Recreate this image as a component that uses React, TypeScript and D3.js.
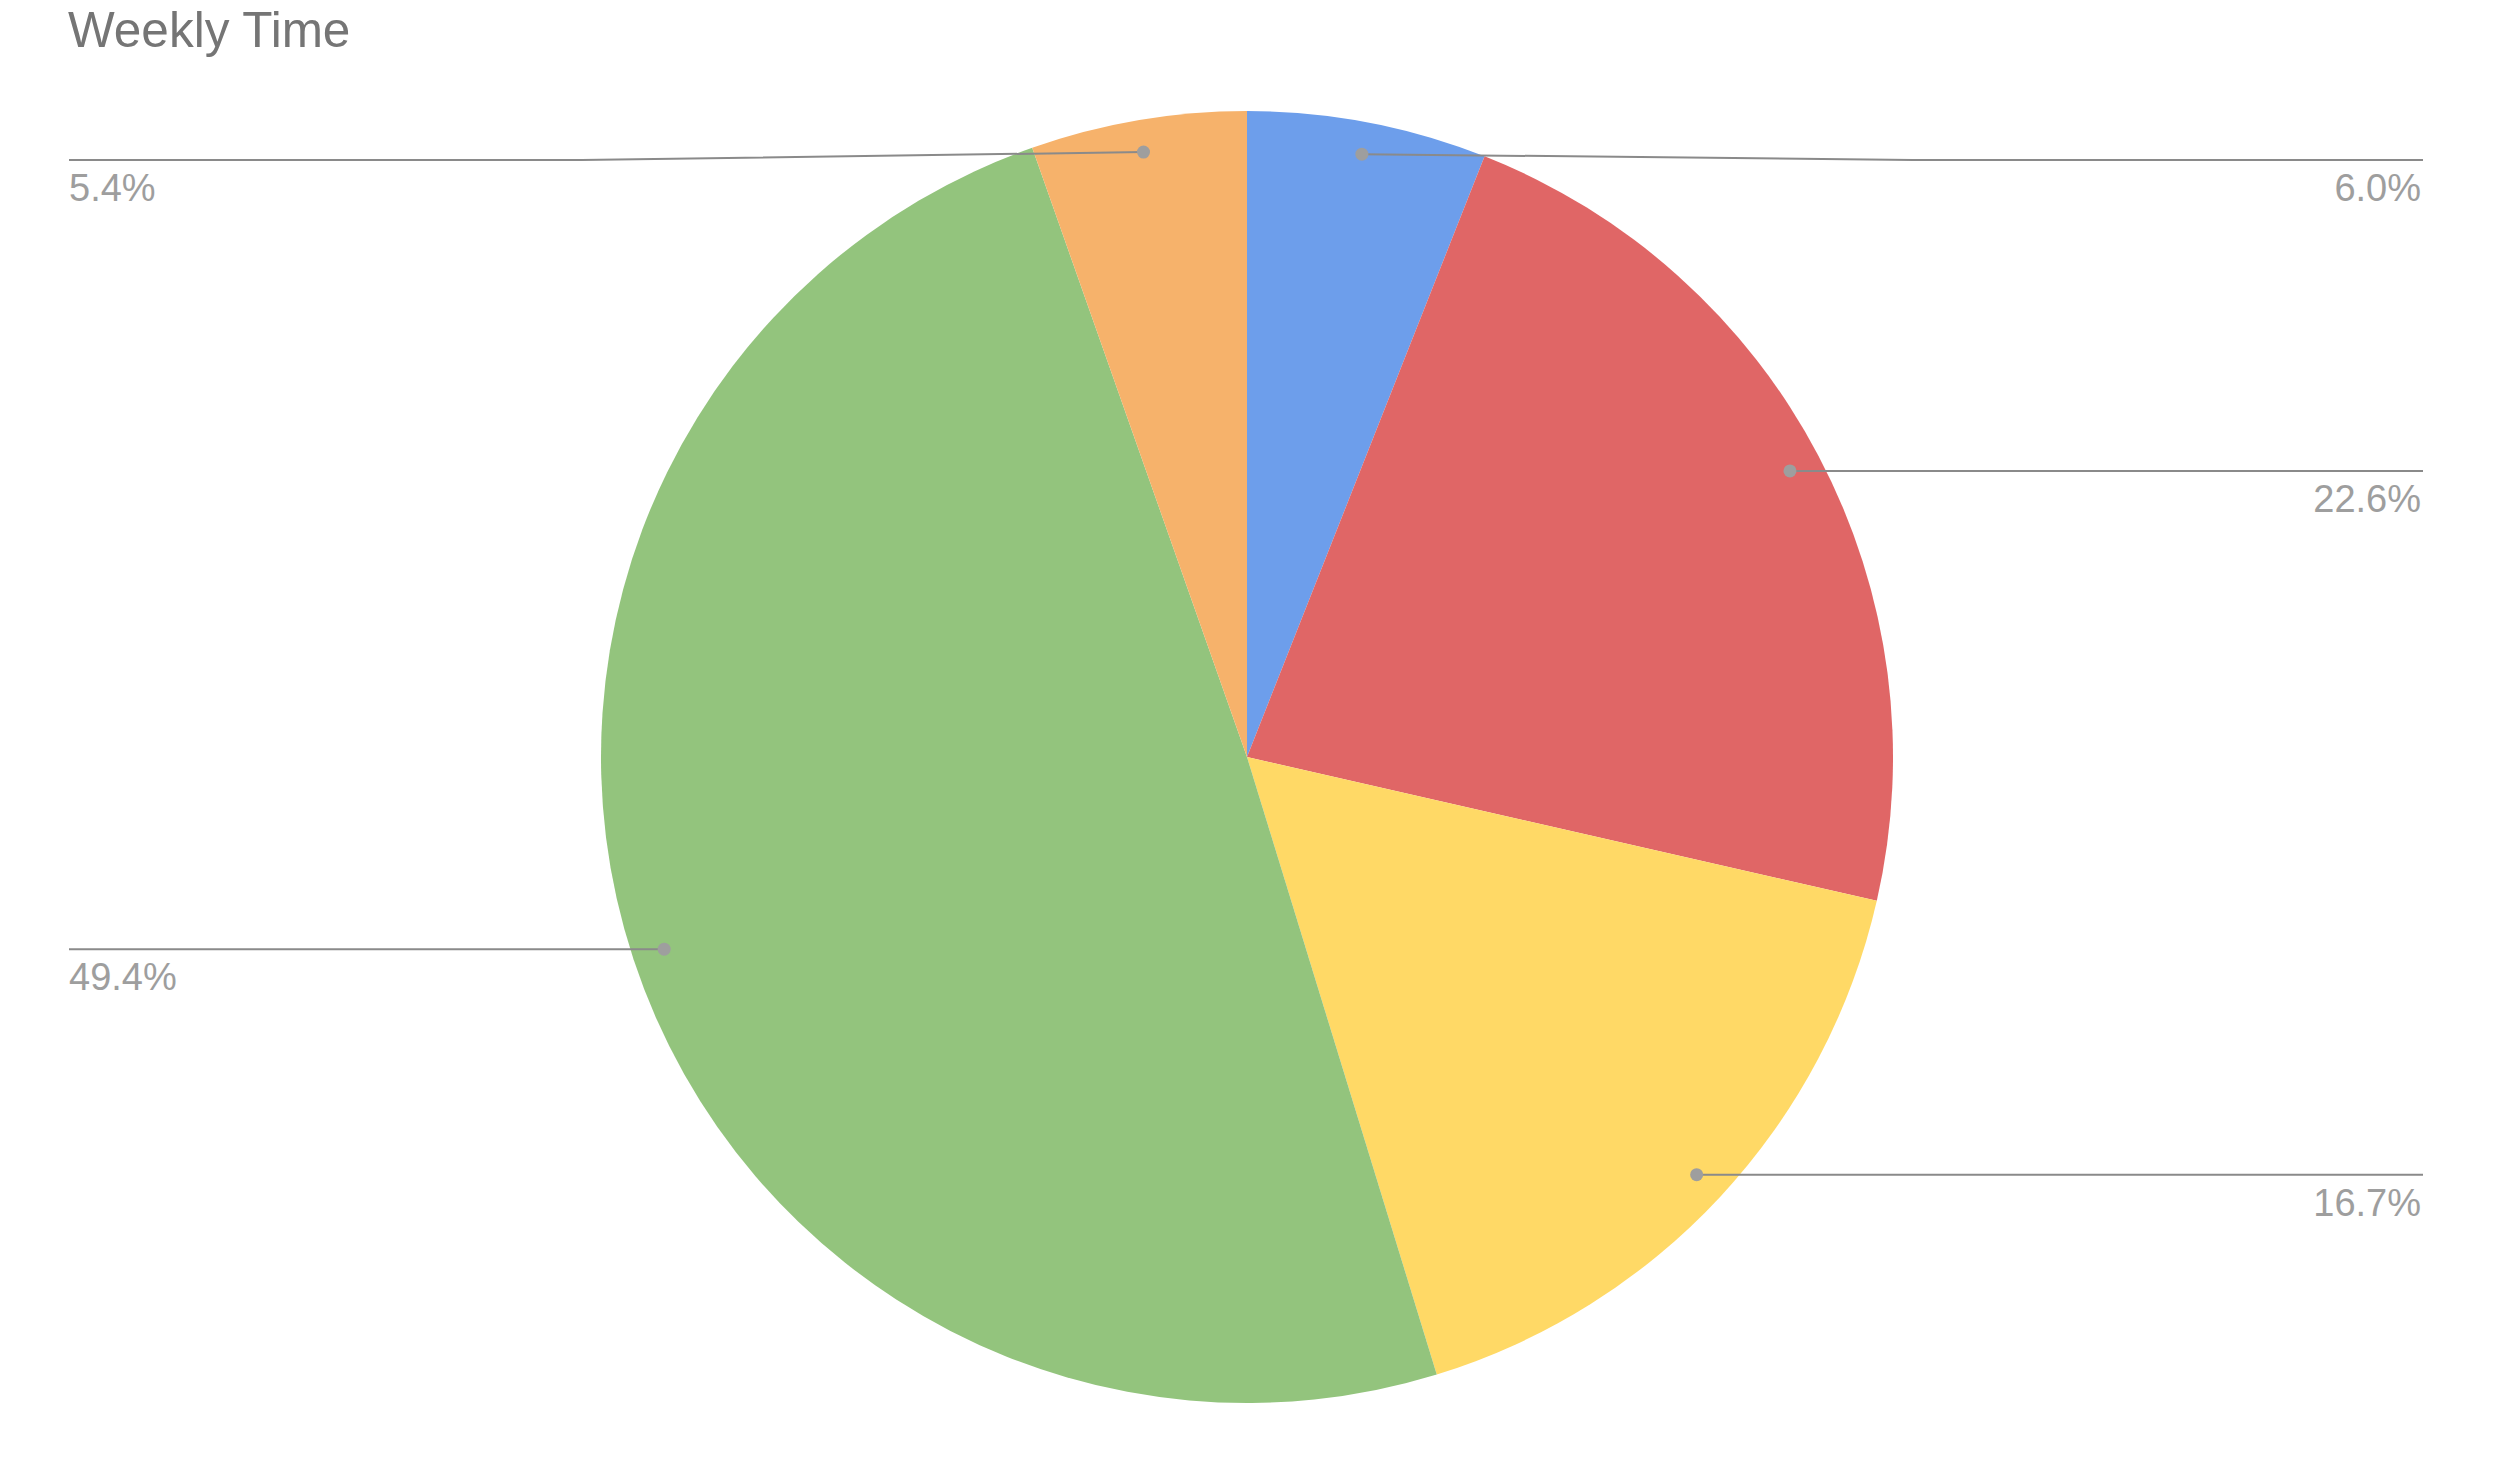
import React from "react";
import * as d3 from "d3";

const title = "Weekly Time";
const categories = ["A", "B", "C", "D", "E"];
const values = [6.0, 22.6, 16.7, 49.4, 5.4];
const colors = ["#6d9eeb", "#e06666", "#ffd966", "#93c47d", "#f6b26b"];

const W = 2500;
const H = 1475;
const cx = 1247;
const cy = 757;
const R = 646;

export default function App() {
  const pie = d3.pie<number>().sort(null).value((d) => d)(values);
  const arc = d3.arc<d3.PieArcDatum<number>>().innerRadius(0).outerRadius(R);
  const anchorR = R * 0.95;
  const bendR = R * 1.03;
  const leftX = 69;
  const rightX = 2423;
  const minY = 160 - cy;

  return (
    <svg
      width={W}
      height={H}
      style={{ position: "absolute", left: 0, top: 0, background: "#fff" }}
      fontFamily="'Liberation Sans', Arial, sans-serif"
    >
      <text x={68} y={47} fontSize={49.5} fill="#757575">
        {title}
      </text>
      <g transform={`translate(${cx},${cy})`}>
        {pie.map((p, i) => (
          <path key={categories[i]} d={arc(p) || ""} fill={colors[i]} />
        ))}
        {pie.map((p, i) => {
          const mid = (p.startAngle + p.endAngle) / 2;
          const ax = Math.sin(mid) * anchorR;
          const ay = -Math.cos(mid) * anchorR;
          const right = ax >= 0;
          const ly = Math.max(ay, minY);
          const bx = (right ? 1 : -1) * bendR;
          const ex = (right ? rightX : leftX) - cx;
          const pts: [number, number][] =
            Math.abs(ly - ay) > 0.5
              ? [
                  [ax, ay],
                  [bx, ly],
                  [ex, ly],
                ]
              : [
                  [ax, ay],
                  [ex, ly],
                ];
          const line = d3.line()(pts) || "";
          return (
            <g key={"l" + i}>
              <path d={line} fill="none" stroke="#8a8a8a" strokeWidth={2} />
              <circle cx={ax} cy={ay} r={6.5} fill="#9e9e9e" />
              <text
                x={right ? ex - 2 : ex}
                y={ly + 41}
                fontSize={38}
                fill="#9e9e9e"
                textAnchor={right ? "end" : "start"}
              >
                {values[i].toFixed(1) + "%"}
              </text>
            </g>
          );
        })}
      </g>
    </svg>
  );
}
